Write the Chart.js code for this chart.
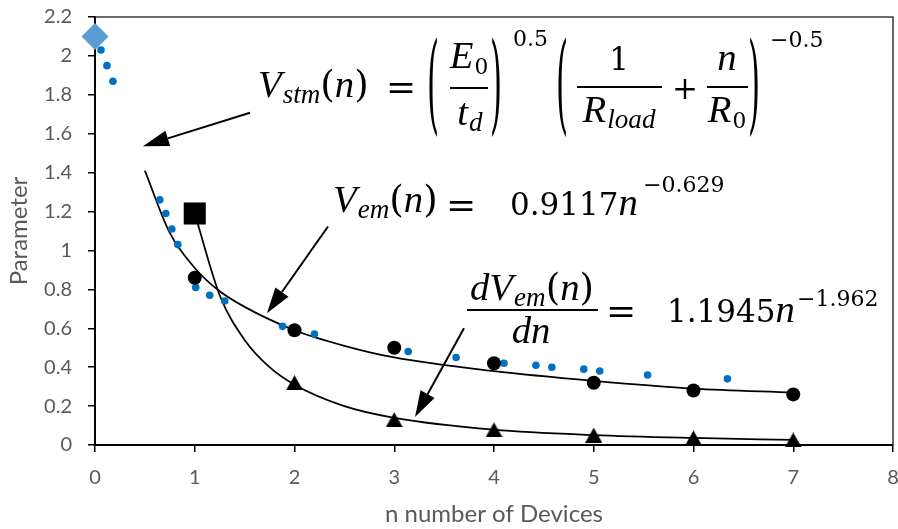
<!DOCTYPE html>
<html>
<head>
<meta charset="utf-8">
<script src="https://cdn.jsdelivr.net/npm/chart.js@4.4.1/dist/chart.umd.min.js"></script>
<style>
body { margin: 0; background: #fff; }
#wrap { position: relative; width: 898px; height: 529px; }
.t { position: absolute; font-family: 'DejaVu Serif'; font-size: 31px; line-height: 31px; white-space: nowrap; color: #000; }
.s { font-size: 22px; line-height: 22px; }
.q { font-size: 36px; line-height: 36px; }
.c { transform: translateX(-50%); }
.i { font-family: 'Liberation Serif'; font-style: italic; font-size: 1.25em; line-height: 0; }
.p { font-size: 1.2em; line-height: 0; }
.sb { font-size: 0.7em; line-height: 0; position: relative; top: 0.28em; margin-left: 1px; }
.bar { position: absolute; height: 2px; background: #000; }
.par { transform: scaleY(3.5); transform-origin: 50% 16.3px; }
</style>
</head>
<body>
<div id="wrap">
<canvas id="myChart" width="898" height="529"></canvas>

<!-- V_stm equation -->
<div class="t" style="left:258px;top:71px"><span class="i">V</span><span class="sb"><span class="i">stm</span></span><span class="p">(</span><span class="i">n</span><span class="p">)</span></div>
<div class="t q" style="left:386px;top:69px">=</div>
<div class="t par" style="left:427px;top:70px">(</div>
<div class="t c" style="left:469px;top:42px"><span class="i">E</span><span class="sb">0</span></div>
<div class="bar" style="left:450px;top:87px;width:38px"></div>
<div class="t c" style="left:470px;top:99px"><span class="i">t</span><span class="sb"><span class="i">d</span></span></div>
<div class="t par" style="left:490px;top:70px">)</div>
<div class="t s" style="left:513px;top:28px">0.5</div>
<div class="t par" style="left:556px;top:70px">(</div>
<div class="t c" style="left:619px;top:44px">1</div>
<div class="bar" style="left:577px;top:86px;width:85px"></div>
<div class="t c" style="left:619px;top:96px"><span class="i">R</span><span class="sb"><span class="i">load</span></span></div>
<div class="t" style="left:672px;top:73px">+</div>
<div class="t c" style="left:727px;top:44px"><span class="i">n</span></div>
<div class="bar" style="left:707px;top:86px;width:41px"></div>
<div class="t c" style="left:727px;top:96px"><span class="i">R</span><span class="sb">0</span></div>
<div class="t par" style="left:748px;top:70px">)</div>
<div class="t s" style="left:770px;top:29px">−0.5</div>

<!-- V_em equation -->
<div class="t" style="left:333px;top:186px"><span class="i">V</span><span class="sb"><span class="i">em</span></span><span class="p">(</span><span class="i">n</span><span class="p">)</span></div>
<div class="t q" style="left:446px;top:187px">=</div>
<div class="t" style="left:510px;top:189px">0.9117<span class="i">n</span></div>
<div class="t s" style="left:643px;top:174px">−0.629</div>

<!-- dV_em/dn equation -->
<div class="t c" style="left:532px;top:274px"><span class="i">dV</span><span class="sb"><span class="i">em</span></span><span class="p">(</span><span class="i">n</span><span class="p">)</span></div>
<div class="bar" style="left:467px;top:309px;width:131px"></div>
<div class="t c" style="left:531px;top:317px"><span class="i">dn</span></div>
<div class="t q" style="left:606px;top:293px">=</div>
<div class="t" style="left:667px;top:296px">1.1945<span class="i">n</span></div>
<div class="t s" style="left:797px;top:288px">−1.962</div>
</div>

<script>
// tick labels
const xTickLabels = ['0', '1', '2', '3', '4', '5', '6', '7', '8'];
const yTickLabels = ['0', '0.2', '0.4', '0.6', '0.8', '1', '1.2', '1.4', '1.6', '1.8', '2', '2.2'];

// single start point (diamond)
const startX = [0];
const startY = [2.10];

// measured points (small blue dots)
const measX = [0.06, 0.12, 0.18, 0.65, 0.71, 0.77, 0.83, 1.01, 1.15, 1.30, 1.88, 2.20, 3.14, 3.62, 4.10, 4.42, 4.58, 4.90, 5.06, 5.54, 6.34];
const measY = [2.03, 1.95, 1.87, 1.26, 1.19, 1.11, 1.03, 0.81, 0.77, 0.74, 0.61, 0.57, 0.48, 0.45, 0.42, 0.41, 0.40, 0.39, 0.38, 0.36, 0.34];

// V_em points (black circles)
const vemX = [1, 2, 3, 4, 5, 6, 7];
const vemY = [0.86, 0.59, 0.50, 0.42, 0.32, 0.28, 0.26];

// square point
const squareX = [1];
const squareY = [1.19];

// dV_em/dn points (black triangles)
const dvX = [2, 3, 4, 5, 6, 7];
const dvY = [0.32, 0.13, 0.078, 0.051, 0.036, 0.026];

// trend lines
const vemFitX = [0.5, 0.75, 1, 1.25, 1.5, 2, 2.5, 3, 4, 5, 6, 7];
const vemFitY = [1.41, 1.09, 0.91, 0.79, 0.71, 0.59, 0.51, 0.45, 0.38, 0.33, 0.29, 0.27];
const dvFitX = [1, 1.25, 1.5, 1.75, 2, 2.5, 3, 4, 5, 6, 7];
const dvFitY = [1.19, 0.77, 0.54, 0.40, 0.31, 0.20, 0.14, 0.079, 0.051, 0.036, 0.026];

// annotation arrows [fromX, fromY, toX, toY] in data units
const arrows = [
    [1.554, 1.708, 0.481, 1.536],
    [2.336, 1.123, 1.724, 0.677],
    [3.699, 0.600, 3.208, 0.144]
];

function pts(xs, ys) {
    return xs.map(function(x, i) { return { x: x, y: ys[i] }; });
}

// triangle marker centred on its box like the original
function triangleMarker(w, h) {
    const c = document.createElement('canvas');
    c.width = w;
    c.height = h;
    const g = c.getContext('2d');
    g.beginPath();
    g.moveTo(w / 2, 0);
    g.lineTo(w, h);
    g.lineTo(0, h);
    g.closePath();
    g.fillStyle = '#000';
    g.fill();
    return c;
}

const frame = {
    id: 'frame',
    afterDraw(chart) {
        const { ctx, chartArea: a, scales } = chart;
        ctx.save();
        ctx.strokeStyle = '#3a3a3a';
        ctx.lineWidth = 1.5;
        ctx.beginPath();
        ctx.moveTo(a.left, a.top);
        ctx.lineTo(a.right, a.top);
        ctx.lineTo(a.right, a.bottom);
        ctx.stroke();

        ctx.strokeStyle = '#000';
        ctx.fillStyle = '#000';
        ctx.lineWidth = 2;
        arrows.forEach(function(ar) {
            const x1 = scales.x.getPixelForValue(ar[0]);
            const y1 = scales.y.getPixelForValue(ar[1]);
            const x2 = scales.x.getPixelForValue(ar[2]);
            const y2 = scales.y.getPixelForValue(ar[3]);
            const ang = Math.atan2(y2 - y1, x2 - x1);
            const len = 26, half = 8;
            const bx = x2 - Math.cos(ang) * len;
            const by = y2 - Math.sin(ang) * len;
            ctx.beginPath();
            ctx.moveTo(x1, y1);
            ctx.lineTo(bx, by);
            ctx.stroke();
            ctx.beginPath();
            ctx.moveTo(x2, y2);
            ctx.lineTo(bx + Math.sin(ang) * half, by - Math.cos(ang) * half);
            ctx.lineTo(bx - Math.sin(ang) * half, by + Math.cos(ang) * half);
            ctx.closePath();
            ctx.fill();
        });
        ctx.restore();
    }
};

const data = {
    datasets: [{
        label: 'dV fit',
        data: pts(dvFitX, dvFitY),
        showLine: true,
        borderColor: '#000',
        borderWidth: 1.75,
        pointRadius: 0,
        cubicInterpolationMode: 'monotone',
        order: 10
    }, {
        label: 'Vem fit',
        data: pts(vemFitX, vemFitY),
        showLine: true,
        borderColor: '#000',
        borderWidth: 1.75,
        pointRadius: 0,
        cubicInterpolationMode: 'monotone',
        order: 9
    }, {
        label: 'measured',
        data: pts(measX, measY),
        backgroundColor: '#0070C0',
        borderWidth: 0,
        pointRadius: 3.8,
        order: 5
    }, {
        label: 'start',
        data: pts(startX, startY),
        pointStyle: 'rectRot',
        backgroundColor: '#5B9BD5',
        borderWidth: 0,
        pointRadius: 13.5,
        clip: false,
        order: 4
    }, {
        label: 'Vem',
        data: pts(vemX, vemY),
        backgroundColor: '#000',
        borderWidth: 0,
        pointRadius: 7,
        order: 3
    }, {
        label: 'square',
        data: pts(squareX, squareY),
        pointStyle: 'rect',
        backgroundColor: '#000',
        borderWidth: 0,
        pointRadius: 15.6,
        order: 2
    }, {
        label: 'dVem',
        data: pts(dvX, dvY),
        pointStyle: triangleMarker(17, 15),
        backgroundColor: '#000',
        borderWidth: 0,
        clip: false,
        order: 1
    }]
};

const tickFont = { family: 'Lato', size: 20 };
const titleFont = { family: 'Lato', size: 24 };

const config = {
    type: 'scatter',
    data,
    options: {
        responsive: false,
        animation: false,
        devicePixelRatio: 1,
        layout: { autoPadding: false, padding: { top: 17, right: 5, left: 0, bottom: 0 } },
        plugins: {
            legend: { display: false },
            tooltip: { enabled: false }
        },
        scales: {
            x: {
                type: 'linear',
                min: 0,
                max: 8,
                ticks: {
                    stepSize: 1,
                    color: '#595959',
                    font: tickFont,
                    padding: 14,
                    maxRotation: 0,
                    callback: function(v, i) { return xTickLabels[i]; }
                },
                grid: { drawOnChartArea: false, tickLength: 7, color: '#000', lineWidth: 1.5 },
                border: { color: '#000', width: 2 },
                title: {
                    display: true,
                    text: 'n number of Devices',
                    color: '#595959',
                    font: titleFont,
                    padding: { top: 0, bottom: 0 }
                },
                afterFit: function(s) { s.height = 84; s.paddingLeft = 0; s.paddingRight = 0; }
            },
            y: {
                min: 0,
                max: 2.2,
                ticks: {
                    stepSize: 0.2,
                    color: '#595959',
                    font: tickFont,
                    padding: 16,
                    callback: function(v, i) { return yTickLabels[i]; }
                },
                grid: { drawOnChartArea: false, tickLength: 7, color: '#000', lineWidth: 1.5 },
                border: { color: '#000', width: 2 },
                title: {
                    display: true,
                    text: 'Parameter',
                    color: '#595959',
                    font: titleFont,
                    padding: { top: 5, bottom: 0 }
                },
                afterFit: function(s) { s.width = 95; s.paddingTop = 0; s.paddingBottom = 0; }
            }
        }
    },
    plugins: [frame]
};

const myChart = new Chart(document.getElementById('myChart'), config);
</script>
</body>
</html>
